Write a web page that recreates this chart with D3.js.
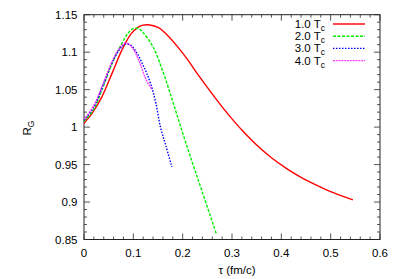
<!DOCTYPE html>
<html><head><meta charset="utf-8">
<script src="https://cdn.jsdelivr.net/npm/d3@7"></script>
<style>body{margin:0;background:#fff}svg{display:block}text{font-family:"Liberation Sans",Arial,sans-serif;fill:#000}</style>
</head><body><svg id="c" width="399" height="279"></svg>
<script>
const seriesNames = ["1.0", "2.0", "3.0", "4.0"];
const tau1 = [0, 0.016, 0.036, 0.057, 0.077, 0.095, 0.11, 0.12, 0.13, 0.15, 0.17, 0.19, 0.21, 0.23, 0.25, 0.28, 0.30, 0.32, 0.35, 0.38, 0.41, 0.44, 0.47, 0.50, 0.545];
const rg1  = [1.005, 1.018, 1.040, 1.072, 1.103, 1.124, 1.1335, 1.136, 1.1365, 1.133, 1.122, 1.107, 1.090, 1.071, 1.053, 1.027, 1.011, 0.996, 0.976, 0.959, 0.945, 0.933, 0.923, 0.914, 0.903];
const tau2 = [0, 0.02, 0.036, 0.057, 0.077, 0.09, 0.10, 0.11, 0.12, 0.14, 0.16, 0.18, 0.20, 0.22, 0.24, 0.268];
const rg2  = [1.008, 1.024, 1.049, 1.085, 1.112, 1.126, 1.1315, 1.1315, 1.126, 1.107, 1.074, 1.034, 0.992, 0.952, 0.913, 0.858];
const tau3 = [0, 0.02, 0.04, 0.06, 0.075, 0.085, 0.095, 0.107, 0.118, 0.127, 0.137, 0.146, 0.155, 0.166, 0.178];
const rg3  = [1.009, 1.027, 1.058, 1.090, 1.106, 1.111, 1.109, 1.099, 1.085, 1.072, 1.054, 1.031, 1.000, 0.975, 0.947];
const tau4 = [0, 0.02, 0.04, 0.06, 0.075, 0.082, 0.09, 0.10, 0.113, 0.124, 0.132, 0.138];
const rg4  = [1.010, 1.029, 1.060, 1.092, 1.108, 1.112, 1.111, 1.104, 1.086, 1.066, 1.056, 1.050];
const xTicks = [0, 0.1, 0.2, 0.3, 0.4, 0.5, 0.6];
const yTicks = [0.85, 0.9, 0.95, 1, 1.05, 1.1, 1.15];
const xTickLabels = ["0", "0.1", "0.2", "0.3", "0.4", "0.5", "0.6"];
const yTickLabels = ["0.85", "0.9", "0.95", "1", "1.05", "1.1", "1.15"];

const colors = ["#ff0000", "#00f000", "#0000ff", "#ff00ff"];
const dashes = [null, "3,1.5", "1.5,1.5", "2,0.8"];
const series = [[tau1, rg1], [tau2, rg2], [tau3, rg3], [tau4, rg4]];

const svg = d3.select("#c");
const L = 84, R = 380, T = 14.7, B = 239.5;
const x = d3.scaleLinear().domain([0, 0.6]).range([L, R]);
const y = d3.scaleLinear().domain([0.85, 1.15]).range([B, T]);

const g = svg.append("g");
const xMinor = d3.range(0, 0.6001, 0.02);
const yMinor = d3.range(0.85, 1.1501, 0.01);
const tickCol = "#555";
xMinor.forEach(v => {
  const major = Math.abs(v*10 - Math.round(v*10)) < 1e-6;
  const len = major ? 6 : 3;
  g.append("line").attr("x1", x(v)).attr("x2", x(v)).attr("y1", B).attr("y2", B - len).attr("stroke", tickCol);
  g.append("line").attr("x1", x(v)).attr("x2", x(v)).attr("y1", T).attr("y2", T + len).attr("stroke", tickCol);
});
yMinor.forEach(v => {
  const major = Math.abs(v*20 - Math.round(v*20)) < 1e-6;
  const len = major ? 6 : 3;
  g.append("line").attr("y1", y(v)).attr("y2", y(v)).attr("x1", L).attr("x2", L + len).attr("stroke", tickCol);
  g.append("line").attr("y1", y(v)).attr("y2", y(v)).attr("x1", R).attr("x2", R - len).attr("stroke", tickCol);
});
xTicks.forEach((v, i) => {
  svg.append("text").attr("x", x(v)).attr("y", 257).attr("text-anchor", "middle").attr("font-size", 11.5).text(xTickLabels[i]);
});
yTicks.forEach((v, i) => {
  svg.append("text").attr("x", 77.5).attr("y", y(v) + 4).attr("text-anchor", "end").attr("font-size", 11.5).text(yTickLabels[i]);
});

svg.append("rect").attr("x", L).attr("y", T).attr("width", R - L).attr("height", B - T)
  .attr("fill", "none").attr("stroke", "#222").attr("stroke-width", 1);

const yl = svg.append("text").attr("transform", "translate(31,128) rotate(-90)").attr("text-anchor", "middle").attr("font-size", 11.5);
yl.append("tspan").text("R");
yl.append("tspan").attr("font-size", 8.5).attr("dy", 3).text("G");
svg.append("text").attr("x", 237).attr("y", 274).attr("text-anchor", "middle").attr("font-size", 11.5).text("τ (fm/c)");

const line = d3.line().x(d => x(d[0])).y(d => y(d[1])).curve(d3.curveCatmullRom.alpha(0.5));
series.forEach((s, i) => {
  const pts = s[0].map((t, j) => [t, s[1][j]]);
  const p = svg.append("path").attr("d", line(pts)).attr("fill", "none")
    .attr("stroke", colors[i]).attr("stroke-width", 1.4);
  if (dashes[i]) p.attr("stroke-dasharray", dashes[i]);
  if (i === 3) p.attr("stroke-opacity", 0.75);
});

seriesNames.forEach((n, i) => {
  const ly = 24 + i * 12.2;
  const t = svg.append("text").attr("x", 325).attr("y", ly + 4).attr("text-anchor", "end").attr("font-size", 11.5);
  t.append("tspan").text(n + " T");
  t.append("tspan").attr("font-size", 8.5).attr("dy", 3).text("c");
  const l = svg.append("line").attr("x1", 333).attr("x2", 365).attr("y1", ly).attr("y2", ly)
    .attr("stroke", colors[i]).attr("stroke-width", 1.4);
  if (dashes[i]) l.attr("stroke-dasharray", dashes[i]);
  if (i === 3) l.attr("stroke-opacity", 0.75);
});
</script></body></html>
